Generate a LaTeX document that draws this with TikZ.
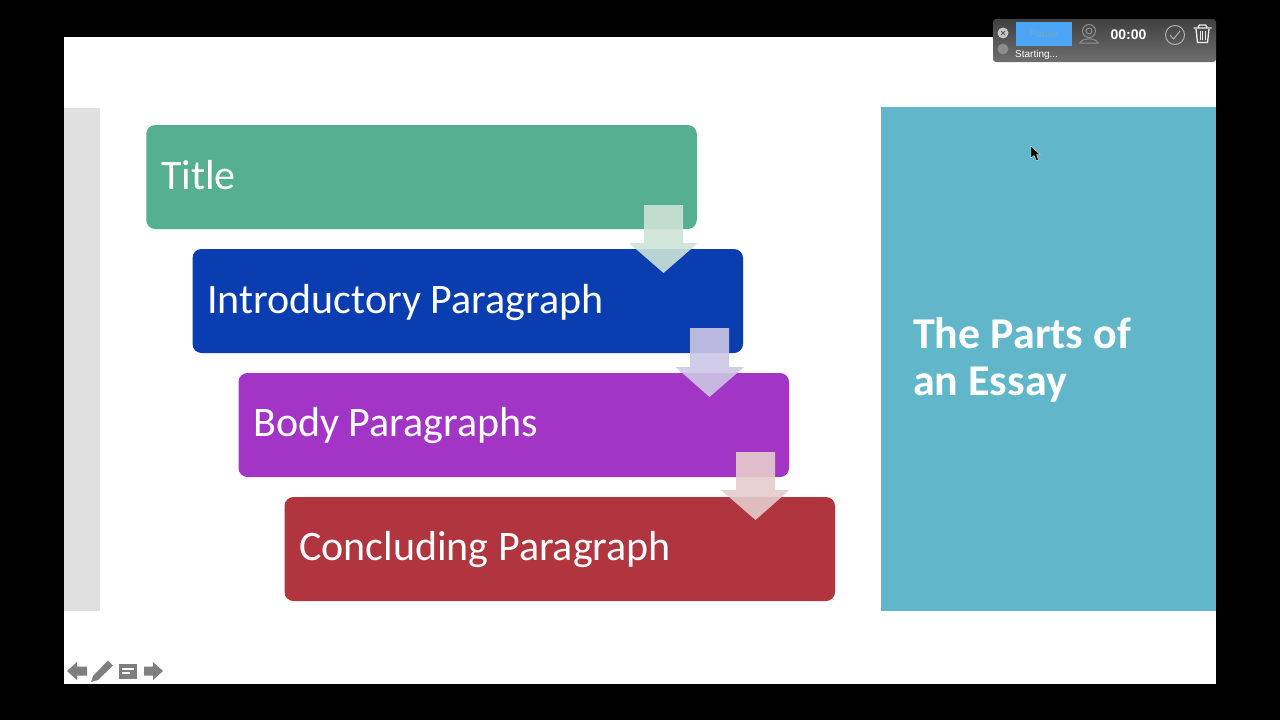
\documentclass[tikz,border=0pt]{standalone}
\usepackage{fontspec}
\setmainfont{Carlito}
\newfontfamily\uifont{Liberation Sans}
\definecolor{cgreen}{HTML}{55AF90}
\definecolor{cblue}{HTML}{0A3DB0}
\definecolor{cpurple}{HTML}{A335C6}
\definecolor{cred}{HTML}{B0353E}
\definecolor{cteal}{HTML}{62B6C9}
\definecolor{cgray}{HTML}{E0E0E0}
\definecolor{agreen}{HTML}{CDE3D8}
\definecolor{ablue}{HTML}{CDC7E5}
\definecolor{ared}{HTML}{E5CBCB}
\definecolor{icon}{HTML}{7F7F7F}
\definecolor{tbtop}{HTML}{404040}
\definecolor{tbbot}{HTML}{6E6E6E}
\definecolor{btn}{HTML}{4DA6F5}
\definecolor{btntext}{HTML}{6FA9CC}
\definecolor{dimline}{HTML}{8F8F8F}
\definecolor{midline}{HTML}{B0B0B0}
\tikzset{
  x=1pt,y=-1pt,
  stepbox/.style={rectangle,rounded corners=9pt,minimum width=550.5pt,minimum height=104pt,inner sep=0pt,draw=none},
  steptext/.style={text=white,anchor=base west,inner sep=0pt,font=\fontsize{42}{42}\selectfont},
  blockarrow/.style={opacity=0.9,draw=none},
  uitext/.style={text=white,inner sep=0pt,font=\uifont},
  tool/.style={draw=#1,line width=1pt,fill=none}
}
\begin{document}
\begin{tikzpicture}
\useasboundingbox (0,0) rectangle (1280,720);
\fill[black] (0,0) rectangle (1280,720);
\fill[white] (64,37) rectangle (1216,684);
\fill[cgray] (64,108) rectangle (100,611);
\fill[cteal] (881,107) rectangle (1216,611);
% boxes
\node[stepbox,fill=cgreen]  (title) at (421.5,177) {};
\node[stepbox,fill=cblue]   (intro) at (467.75,301) {};
\node[stepbox,fill=cpurple] (body)  at (513.75,425) {};
\node[stepbox,fill=cred]    (conc)  at (559.75,549) {};
\node[steptext] (titlet) at (161,189) {Title};
\node[steptext] (introt) at (207,313) {Introductory Paragraph};
\node[steptext] (bodyt)  at (253,436) {Body Paragraphs};
\node[steptext] (conct)  at (299,560) {Concluding Paragraph};
% block arrows
\fill[blockarrow,agreen] (644,205) -- (683,205) -- (683,243) -- (698,243) -- (663.5,273) -- (629,243) -- (644,243) -- cycle;
\fill[blockarrow,ablue] (690,328) -- (729,328) -- (729,367) -- (744,367) -- (709.5,397) -- (675.5,367) -- (690,367) -- cycle;
\fill[blockarrow,ared] (736,452) -- (775,452) -- (775,490) -- (789.5,490) -- (755.5,520) -- (721,490) -- (736,490) -- cycle;
% heading
\node[text=white,anchor=base west,inner sep=0pt,font=\bfseries\fontsize{44}{46.5}\selectfont,align=left] (head) at (913,395) {The Parts of\\an Essay};
% cursor
\fill[black,draw=white,line width=0.4pt] (1031,146) -- (1031,158) -- (1034,155.5) -- (1036.5,161) -- (1038.5,160) -- (1036.5,154.5) -- (1040,154.5) -- cycle;
% toolbar
\shade[top color=tbtop,bottom color=tbbot,rounded corners=3pt] (993,19) rectangle (1216,62);
\fill[white!55!gray] (1003,33) circle (5.5);
\fill[gray!90!white] (1003,49) circle (5.5);
\draw[gray!60!black,line width=0.7pt] (1001,31) -- (1005,35) (1005,31) -- (1001,35);
\fill[btn] (1016,22) rectangle (1072,46);
\node[font=\uifont\fontsize{10}{10}\selectfont,text=btntext,inner sep=0pt] (pause) at (1044,34.5) {Pause};
\draw[tool=dimline] (1089,31) circle (6.5);
\draw[tool=dimline] (1089,31) circle (3);
\draw[tool=dimline] (1080,43) .. controls (1082,37.5) and (1096,37.5) .. (1098,43) -- cycle;
\node[uitext,font=\uifont\bfseries\fontsize{14}{14}\selectfont] (timer) at (1128.5,34.5) {00:00};
\node[uitext,font=\uifont\fontsize{10}{10}\selectfont,anchor=base west] (start) at (1015,57.5) {Starting...};
\draw[tool=midline] (1175,35) circle (9.5);
\draw[tool=midline] (1170,35) -- (1173.5,39) -- (1180,31);
\draw[tool=white!85!gray,line width=1.3pt] (1193.5,28) -- (1211.5,28) (1198,27) -- (1199.5,25) -- (1205.5,25) -- (1207,27);
\draw[tool=white!85!gray,line width=1.3pt] (1196,29) -- (1197.5,42.5) -- (1207.5,42.5) -- (1209,29);
\draw[tool=white!85!gray,line width=0.9pt] (1200,31) -- (1200,40) (1202.5,31) -- (1202.5,40) (1205,31) -- (1205,40);
% slide controls
\fill[icon] (67,671) -- (77,662) -- (77,666.5) -- (87,666.5) -- (87,675.5) -- (77,675.5) -- (77,680) -- cycle;
\fill[icon] (91,682) -- (93,676) -- (108,660.5) -- (113,665.5) -- (98,680) -- cycle;
\fill[icon] (119,664) rectangle (137,679);
\fill[white] (122,667.5) rectangle (134,669.5);
\fill[white] (122,671.5) rectangle (130,673.5);
\fill[icon] (163,671) -- (153,662) -- (153,666.5) -- (144,666.5) -- (144,675.5) -- (153,675.5) -- (153,680) -- cycle;
\end{tikzpicture}
\end{document}
